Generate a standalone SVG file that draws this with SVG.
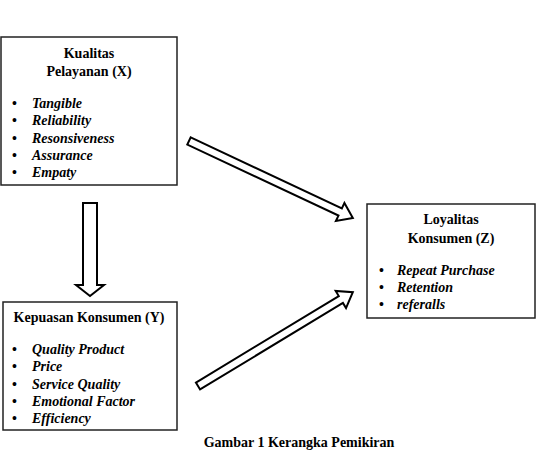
<svg xmlns="http://www.w3.org/2000/svg" width="541" height="451" viewBox="0 0 541 451">
<style>
.box{fill:#fff;stroke:#222;stroke-width:1.5}
.arr{fill:#fff;stroke:#000;stroke-width:2;stroke-linejoin:miter}
</style>
<rect width="541" height="451" fill="#fff"/>
<g font-family="'Liberation Serif', serif" font-size="14" font-weight="bold" fill="#000">
<g id="node-x">
<rect class="box" x="1" y="37" width="176" height="148"/>
<text x="89" y="58" text-anchor="middle">Kualitas</text>
<text x="89" y="76" text-anchor="middle">Pelayanan (X)</text>
<text x="12" y="108">•</text><text font-style="italic" x="32" y="108">Tangible</text>
<text x="12" y="125">•</text><text font-style="italic" x="32" y="125">Reliability</text>
<text x="12" y="143">•</text><text font-style="italic" x="32" y="143">Resonsiveness</text>
<text x="12" y="160">•</text><text font-style="italic" x="32" y="160">Assurance</text>
<text x="12" y="177">•</text><text font-style="italic" x="32" y="177">Empaty</text>
</g>
<g id="node-y">
<rect class="box" x="3" y="302" width="174" height="128"/>
<text x="89" y="322" text-anchor="middle">Kepuasan Konsumen (Y)</text>
<text x="12" y="354">•</text><text font-style="italic" x="32" y="354">Quality Product</text>
<text x="12" y="371">•</text><text font-style="italic" x="32" y="371">Price</text>
<text x="12" y="389">•</text><text font-style="italic" x="32" y="389">Service Quality</text>
<text x="12" y="406">•</text><text font-style="italic" x="32" y="406">Emotional Factor</text>
<text x="12" y="423">•</text><text font-style="italic" x="32" y="423">Efficiency</text>
</g>
<g id="node-z">
<rect class="box" x="367" y="204" width="168" height="114"/>
<text x="451" y="224" text-anchor="middle">Loyalitas</text>
<text x="451" y="243" text-anchor="middle">Konsumen (Z)</text>
<text x="379" y="275">•</text><text font-style="italic" x="397" y="275">Repeat Purchase</text>
<text x="379" y="292">•</text><text font-style="italic" x="397" y="292">Retention</text>
<text x="379" y="309">•</text><text font-style="italic" x="397" y="309">referalls</text>
</g>
<text x="299" y="447" text-anchor="middle">Gambar 1 Kerangka Pemikiran</text>
</g>
<g id="connectors">
<polygon class="arr" points="83,203 97,203 97,285 104,285 90,296 76,285 83,285"/>
<polygon class="arr" transform="translate(189,141) rotate(25.15)" points="0,-4 167,-4 167,-10 181,0 167,10 167,4 0,4"/>
<polygon class="arr" transform="translate(198,386) rotate(-31.2)" points="0,-4 167,-4 167,-10 181,0 167,10 167,4 0,4"/>
</g>
</svg>
